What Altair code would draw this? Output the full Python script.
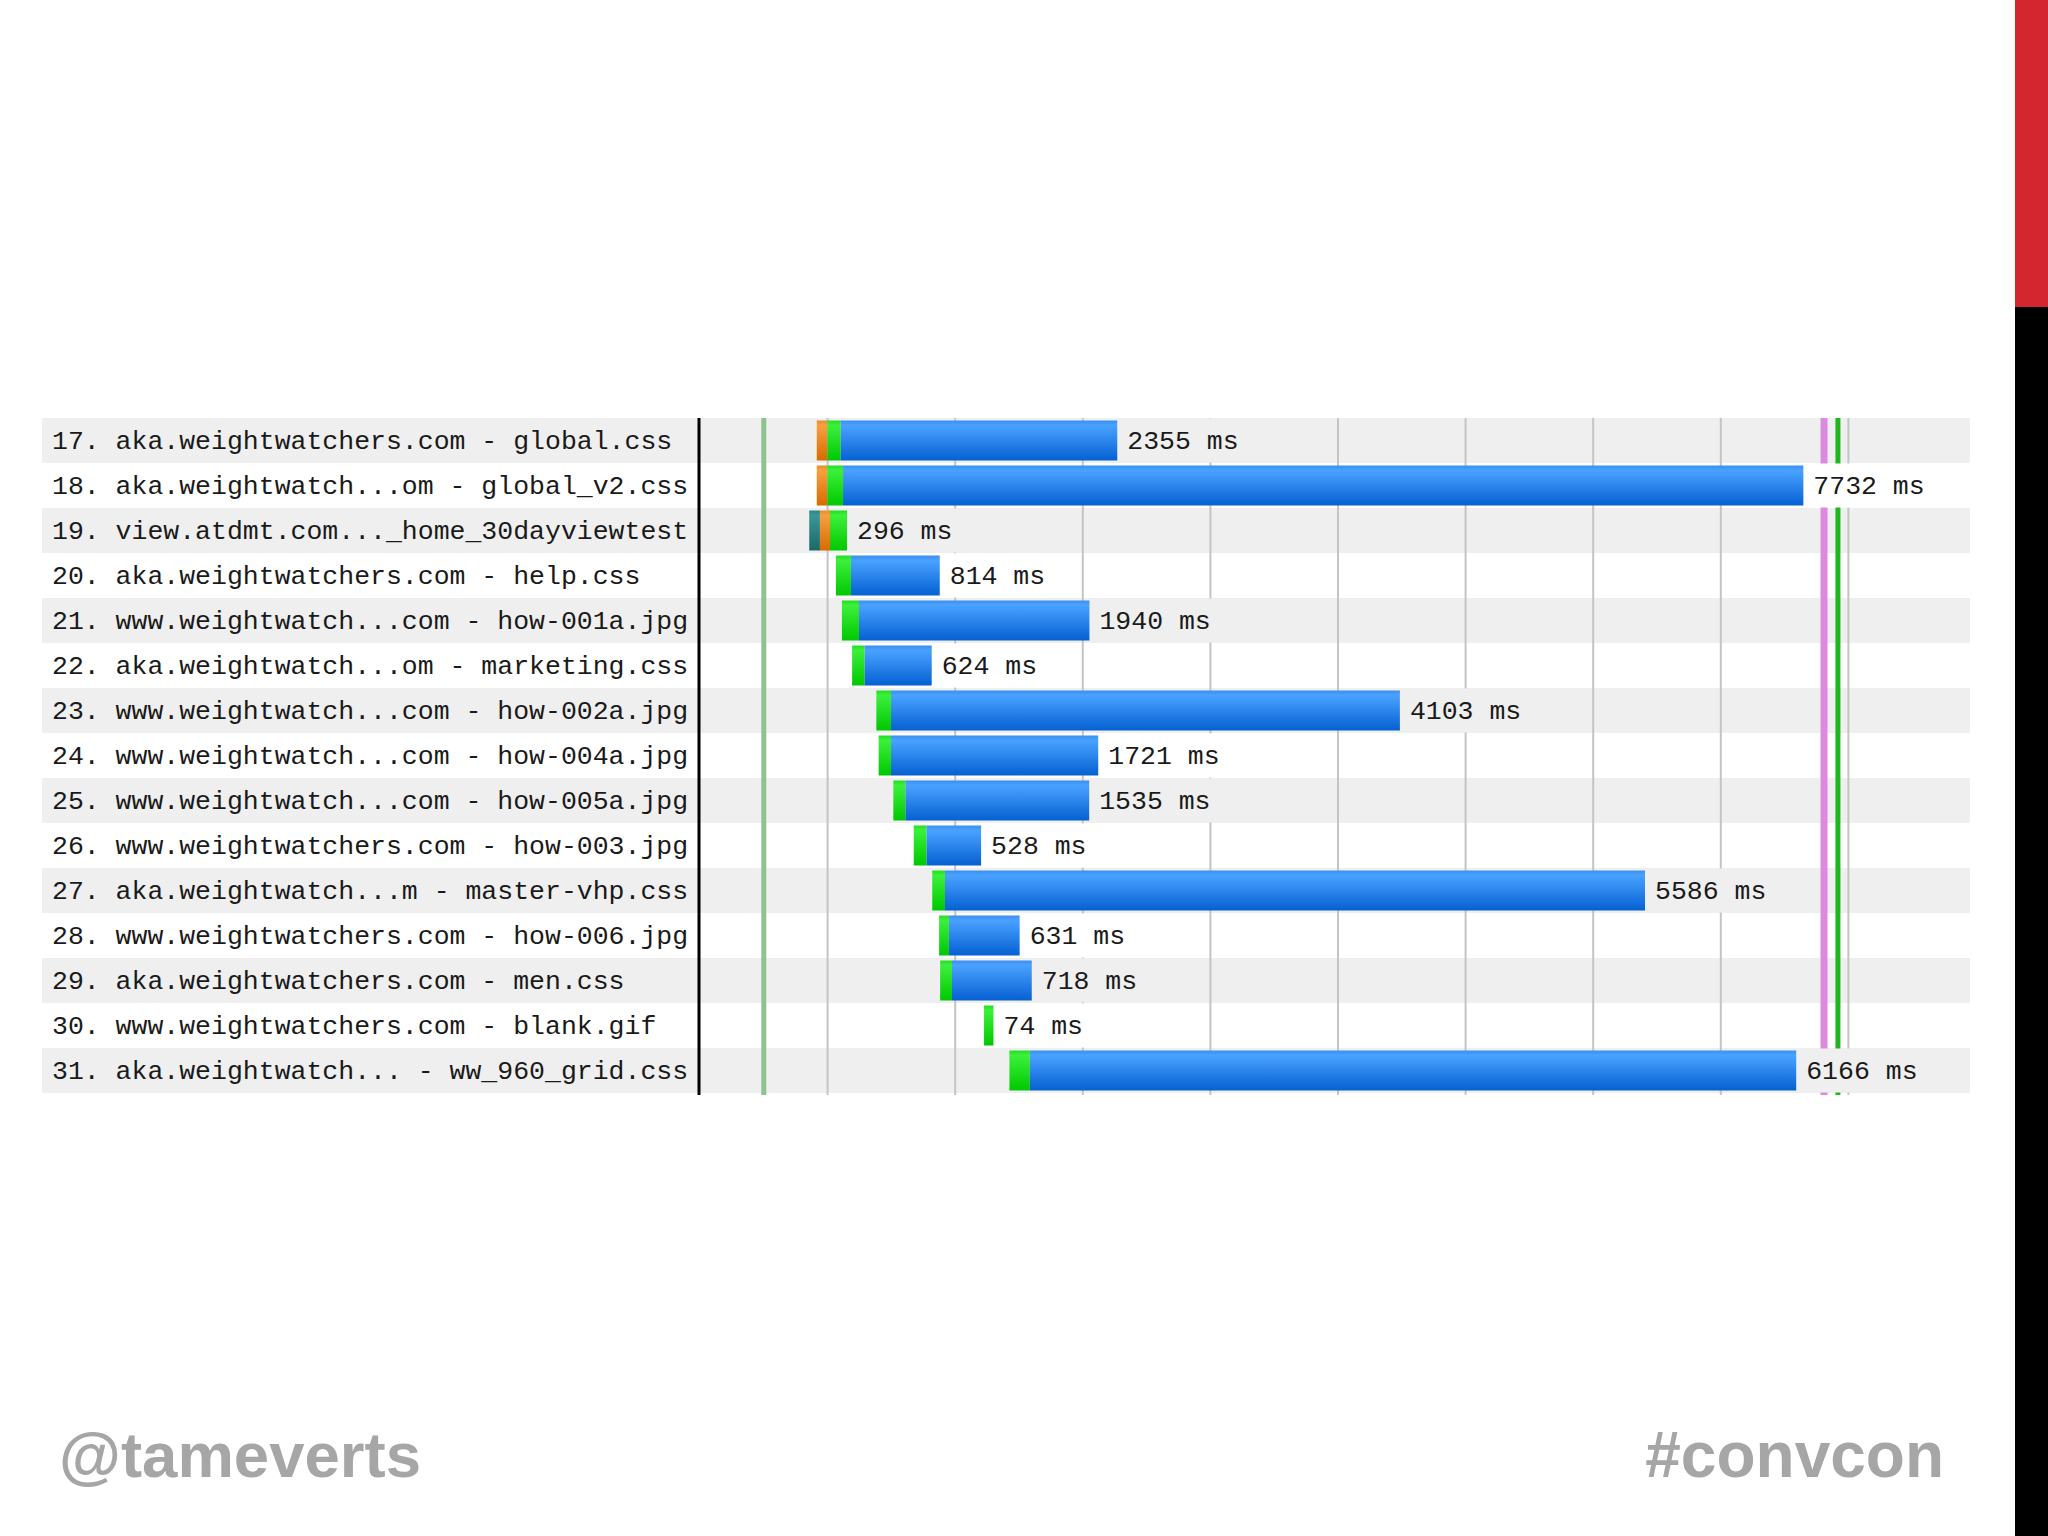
import altair as alt
import pandas as pd

# ---------------- data ----------------
labels = [
    "17. aka.weightwatchers.com - global.css",
    "18. aka.weightwatch...om - global_v2.css",
    "19. view.atdmt.com..._home_30dayviewtest",
    "20. aka.weightwatchers.com - help.css",
    "21. www.weightwatch...com - how-001a.jpg",
    "22. aka.weightwatch...om - marketing.css",
    "23. www.weightwatch...com - how-002a.jpg",
    "24. www.weightwatch...com - how-004a.jpg",
    "25. www.weightwatch...com - how-005a.jpg",
    "26. www.weightwatchers.com - how-003.jpg",
    "27. aka.weightwatch...m - master-vhp.css",
    "28. www.weightwatchers.com - how-006.jpg",
    "29. aka.weightwatchers.com - men.css",
    "30. www.weightwatchers.com - blank.gif",
    "31. aka.weightwatch... - ww_960_grid.css",
]
start_ms = [915, 915, 856, 1065, 1112, 1192, 1382, 1400, 1515, 1675, 1820, 1874, 1882, 2226, 2425]
dns_ms = [0, 0, 84, 0, 0, 0, 0, 0, 0, 0, 0, 0, 0, 0, 0]
connect_ms = [83, 83, 79, 0, 0, 0, 0, 0, 0, 0, 0, 0, 0, 0, 0]
ttfb_ms = [105, 123, 133, 118, 134, 99, 115, 97, 95, 100, 100, 77, 93, 74, 160]
duration_ms = [2355, 7732, 296, 814, 1940, 624, 4103, 1721, 1535, 528, 5586, 631, 718, 74, 6166]

grid_ms = [1000, 2000, 3000, 4000, 5000, 6000, 7000, 8000, 9000]
start_render_ms = [500]
dom_loaded_ms = [8809]
on_load_ms = [8918]

# ---------------- layout constants ----------------
PX_PER_MS = 0.1276
W, H = 1270, 675
X_MAX = W / PX_PER_MS
MONO = "Liberation Mono"
FS = 26.5
CHAR_W = 15.9

rows = pd.DataFrame({
    "label": labels,
    "bg": ["#efefef" if i % 2 == 0 else "#ffffff" for i in range(len(labels))],
    "end": [s + d for s, d in zip(start_ms, duration_ms)],
    "dur_label": [f"{d} ms" for d in duration_ms],
})
rows["box_end"] = rows["end"] + (rows["dur_label"].str.len() * CHAR_W + 20) / PX_PER_MS

segs = []
for i, lab in enumerate(labels):
    s = start_ms[i]
    a = s + dns_ms[i]
    b = a + connect_ms[i]
    c = b + ttfb_ms[i]
    e = s + duration_ms[i]
    for phase, x0, x1 in [("dns", s, a), ("connect", a, b), ("ttfb", b, c), ("download", c, e)]:
        if x1 > x0:
            segs.append({"label": lab, "phase": phase, "x0": x0, "x1": x1})
segs = pd.DataFrame(segs)

xs = alt.Scale(domain=[0, X_MAX], nice=False, zero=False)
ys = alt.Scale(domain=labels, paddingInner=0, paddingOuter=0)
Y = alt.Y("label:N", scale=ys, axis=None, sort=labels)


def grad(c0, c1, c2):
    return alt.LinearGradient(
        gradient="linear", x1=0, x2=0, y1=0, y2=1,
        stops=[alt.GradientStop(color=c0, offset=0),
               alt.GradientStop(color=c1, offset=0.12),
               alt.GradientStop(color=c2, offset=1)])


phase_fill = {
    "dns": grad("#2f8585", "#3c9696", "#1c6868"),
    "connect": grad("#e88a2a", "#f8a040", "#d86a00"),
    "ttfb": grad("#22dd22", "#3cf03c", "#00c800"),
    "download": grad("#3a8ef0", "#4aa2ff", "#0560d2"),
}

base_rows = alt.Chart(rows)

stripes = base_rows.mark_rect().encode(
    x=alt.value(-658), x2=alt.value(W), y=Y,
    color=alt.Color("bg:N", scale=None),
)

grid = alt.Chart(pd.DataFrame({"t": grid_ms})).mark_rule(color="#c4c4c4", strokeWidth=2).encode(
    x=alt.X("t:Q", scale=xs, axis=None), y=alt.value(0), y2=alt.value(H + 2))

sr = alt.Chart(pd.DataFrame({"t": start_render_ms})).mark_rule(color="#8fc28f", strokeWidth=5).encode(
    x=alt.X("t:Q", scale=xs), y=alt.value(0), y2=alt.value(H + 2))
dl = alt.Chart(pd.DataFrame({"t": dom_loaded_ms})).mark_rule(color="#dc8ae0", strokeWidth=7).encode(
    x=alt.X("t:Q", scale=xs), y=alt.value(0), y2=alt.value(H + 2))
ol = alt.Chart(pd.DataFrame({"t": on_load_ms})).mark_rule(color="#1cb81c", strokeWidth=5).encode(
    x=alt.X("t:Q", scale=xs), y=alt.value(0), y2=alt.value(H + 2))

divider = alt.Chart(pd.DataFrame({"t": [0]})).mark_rule(color="#000000", strokeWidth=3).encode(
    x=alt.value(-1), y=alt.value(0), y2=alt.value(H + 2))

boxes = base_rows.mark_bar(height=44).encode(
    x=alt.X("end:Q", scale=xs), x2="box_end:Q", y=Y,
    color=alt.Color("bg:N", scale=None),
)

bar_layers = []
for phase in ["dns", "connect", "ttfb", "download"]:
    bar_layers.append(
        alt.Chart(segs).transform_filter(alt.datum.phase == phase)
        .mark_bar(height=40, color=phase_fill[phase])
        .encode(x=alt.X("x0:Q", scale=xs), x2="x1:Q", y=Y)
    )

dur_text = base_rows.mark_text(align="left", baseline="middle", dx=10, font=MONO,
                               fontSize=FS, color="#1a1a1a").encode(
    x=alt.X("end:Q", scale=xs), y=Y, text="dur_label:N")

name_text = base_rows.mark_text(align="left", baseline="middle", font=MONO,
                                fontSize=FS, color="#1a1a1a").encode(
    x=alt.value(-648), y=Y, text="label:N")

# slide decorations
deco = pd.DataFrame({"k": [0]})
red_bar = alt.Chart(deco).mark_rect(color="#d3262f").encode(
    x=alt.value(1315), x2=alt.value(1348), y=alt.value(-418), y2=alt.value(-111))
black_bar = alt.Chart(deco).mark_rect(color="#000000").encode(
    x=alt.value(1315), x2=alt.value(1348), y=alt.value(-111), y2=alt.value(1118))
handle = alt.Chart(pd.DataFrame({"s": ["@tameverts"]})).mark_text(
    align="left", baseline="alphabetic", font="Liberation Sans", fontWeight="bold",
    fontSize=63.5, color="#a6a6a6").encode(x=alt.value(-641), y=alt.value(1059), text="s:N")
tag = alt.Chart(pd.DataFrame({"s": ["#convcon"]})).mark_text(
    align="right", baseline="alphabetic", font="Liberation Sans", fontWeight="bold",
    fontSize=64, color="#a6a6a6").encode(x=alt.value(1244), y=alt.value(1059), text="s:N")

chart = alt.layer(
    stripes, grid, sr, dl, ol, divider, boxes, *bar_layers, dur_text, name_text,
    red_bar, black_bar, handle, tag,
).properties(
    width=W, height=H,
    autosize=alt.AutoSizeParams(type="none"),
    padding={"left": 700, "top": 418, "right": 78, "bottom": 443},
    background="#ffffff",
).configure_view(stroke=None)

chart.save("out.html", embed_options={"renderer": "svg", "actions": False})
